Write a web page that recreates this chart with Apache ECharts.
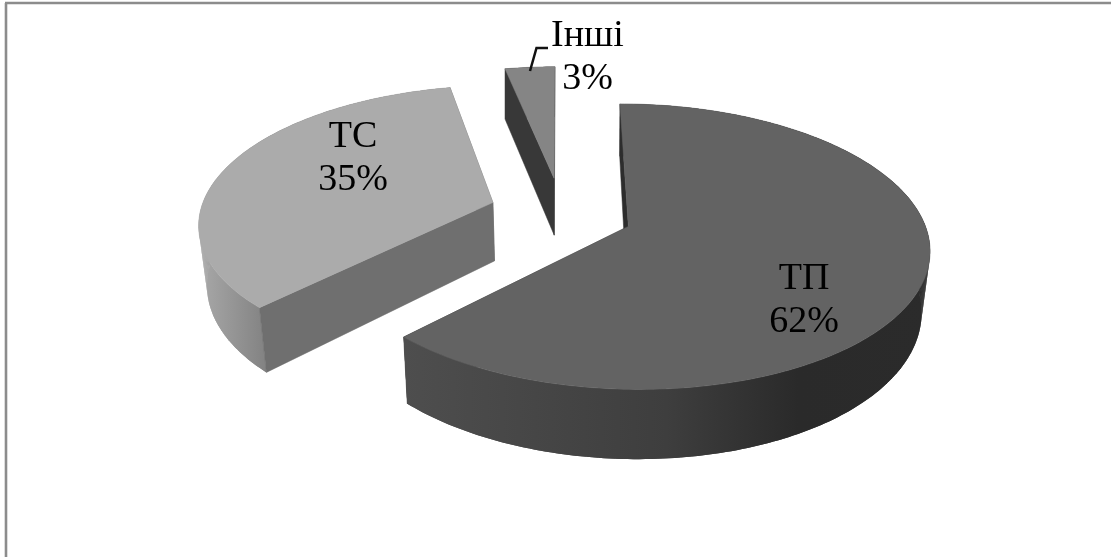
<!DOCTYPE html>
<html>
<head>
<meta charset="utf-8">
<style>html,body{margin:0;padding:0;background:#fff}#c{width:1111px;height:557px}</style>
<script src="https://cdn.jsdelivr.net/npm/echarts@6/dist/echarts.min.js"></script>
</head>
<body>
<div id="c"></div>
<script>
const categories = ['ТП', 'ТС', 'Інші'];
const values = [62.4, 34.4, 3.2];
const percentLabels = ['62%', '35%', '3%'];

// Colours per slice: top face, cut face, outer wall gradient stops
const topColors = ['#636363', '#ababab', '#858585'];
const faceColors = ['#2d2d2d', '#6f6f6f', '#383838'];
const wallStops = [
  [[0, '#4e4e4e'], [0.5, '#3e3e3e'], [0.75, '#2a2a2a'], [1, '#2b2b2b']],
  [[0, '#a9a9a9'], [1, '#838383']],
  [[0, '#383838'], [1, '#383838']]
];
const labelCenters = [[804, 301], [353, 159], [587.5, 57.5]];

// Projection of the pie disc (unit radius, u right, v towards the viewer)
const OX = 561, OY = 212.6, RX = 293, RY = 136, K = 0.14;
const EX = 0.245, EY = 0.263, DEPTH = 59, LOWER_X = 0.023;
const top3 = (u, v) => {
  const w = 1 - K * v;
  return [OX + RX * u / w, OY + RY * v / w];
};
const low3 = (u, v) => {
  const w = 1 - K * v, p = top3(u, v);
  const shrink = LOWER_X * Math.max(0, Math.min(1, (v + 1) / 0.5));
  return [OX + (p[0] - OX) * (1 - shrink), p[1] + DEPTH / w];
};

const total = values.reduce((a, b) => a + b, 0);
const rad = d => d * Math.PI / 180;
function sliceGeometry(i) {
  const before = values.slice(0, i).reduce((a, b) => a + b, 0);
  const a0 = before / total * 360, a1 = (before + values[i]) / total * 360;
  const mid = rad((a0 + a1) / 2);
  const cu = Math.sin(mid) * EX, cv = -Math.cos(mid) * EY;
  const arc = [];
  const n = Math.max(2, Math.ceil(a1 - a0));
  for (let s = 0; s <= n; s++) {
    const a = rad(a0 + (a1 - a0) * s / n);
    arc.push([cu + Math.sin(a), cv - Math.cos(a)]);
  }
  return { cu, cv, arc };
}
const poly = (points, fill, z2, stroked) => ({
  type: 'polygon', z2,
  shape: { points },
  style: stroked === false ? { fill } : { fill, stroke: fill, lineWidth: 0.5 }
});

function renderItem(params) {
  const i = params.dataIndex;
  const g = sliceGeometry(i);
  const topArc = g.arc.map(p => top3(p[0], p[1]));
  const lowArc = g.arc.map(p => low3(p[0], p[1]));
  const cT = top3(g.cu, g.cv), cL = low3(g.cu, g.cv);
  const last = topArc.length - 1;
  const xs = topArc.map(p => p[0]);
  const grad = new echarts.graphic.LinearGradient(
    Math.min.apply(null, xs), 0,
    i === 1 ? Math.min.apply(null, xs) + 66 : Math.max.apply(null, xs), 0,
    wallStops[i].map(s => ({ offset: s[0], color: s[1] })), true);
  const children = [];
  children.push(poly([cT, topArc[last], lowArc[last], cL], faceColors[i], 1));
  // Swept quads fill the silhouette; the whole-wall polygon then hides their seams
  for (let s = 0; s < last; s++) {
    children.push(poly([topArc[s], topArc[s + 1], lowArc[s + 1], lowArc[s]], grad, 2, false));
  }
  children.push(poly(topArc.concat(lowArc.slice().reverse()), grad, 2, false));
  children.push(poly([cT, topArc[0], lowArc[0], cL], faceColors[i], 3));
  children.push(poly([cT].concat(topArc), topColors[i], 4));
  const lc = labelCenters[i];
  children.push({
    type: 'text', z2: 5,
    style: {
      x: lc[0], y: lc[1],
      text: categories[i] + '\n' + percentLabels[i],
      fill: '#000', align: 'center', verticalAlign: 'middle',
      font: '38px "Liberation Serif"', lineHeight: 43
    }
  });
  return { type: 'group', children };
}

const chart = echarts.init(document.getElementById('c'), null, { renderer: 'canvas' });
chart.setOption({
  animation: false,
  backgroundColor: '#fff',
  graphic: [
    { type: 'line', shape: { x1: 5, y1: 3, x2: 1111, y2: 3 }, style: { stroke: '#8c8c8c', lineWidth: 2.6 } },
    { type: 'line', shape: { x1: 6, y1: 3, x2: 6, y2: 557 }, style: { stroke: '#8c8c8c', lineWidth: 2.6 } },
    { type: 'polyline', z: 10, shape: { points: [[530, 71], [536.5, 48], [548, 48]] }, style: { stroke: '#111', lineWidth: 2.5, fill: null } }
  ],
  series: [{
    type: 'custom',
    coordinateSystem: 'none',
    silent: true,
    renderItem,
    data: values.map((v, i) => ({ name: categories[i], value: v }))
  }]
});
</script>
</body>
</html>
